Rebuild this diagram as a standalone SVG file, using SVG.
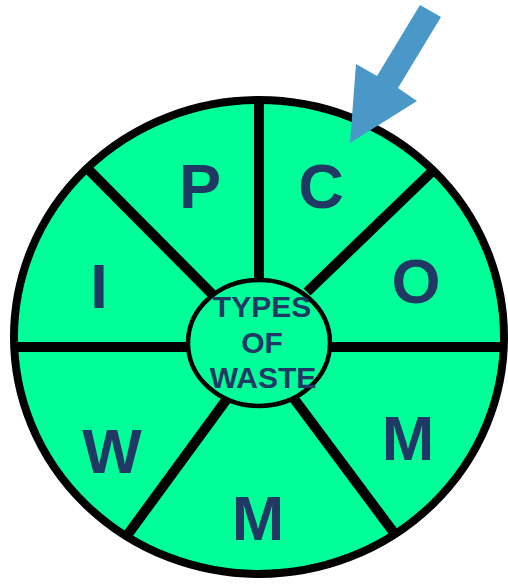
<svg xmlns="http://www.w3.org/2000/svg" width="508" height="585" viewBox="0 0 508 585">
  <style>
    .wheel { fill: none; stroke: #000; stroke-width: 8; }
    .spoke { stroke: #000; stroke-width: 10; stroke-linecap: butt; fill: none; }
    .hub { fill: #00FF99; stroke: #000; stroke-width: 4.5; }
    .big { font-family: "Liberation Sans", Arial, sans-serif; font-weight: bold; font-size: 63px; fill: #1F3864; text-anchor: middle; }
    .hubtext { font-family: "Liberation Sans", Arial, sans-serif; font-weight: bold; font-size: 30px; fill: #1F3864; text-anchor: middle; }
    .pointer { fill: #4A98C8; }
  </style>
  <defs>
    <clipPath id="wheel-clip">
      <ellipse cx="259" cy="337" rx="245" ry="237"/>
    </clipPath>
  </defs>

  <!-- outer wheel fill -->
  <ellipse cx="259" cy="337" rx="245" ry="237" fill="#00FF99"/>

  <!-- spokes dividing the wheel into segments -->
  <g id="spokes" clip-path="url(#wheel-clip)">
    <line class="spoke" x1="259" y1="90" x2="259" y2="282"/>
    <line class="spoke" x1="76" y1="157" x2="214" y2="296"/>
    <line class="spoke" x1="444" y1="160" x2="307" y2="292"/>
    <line class="spoke" x1="4" y1="347" x2="190" y2="347"/>
    <line class="spoke" x1="328" y1="347" x2="514" y2="347"/>
    <line class="spoke" x1="112" y1="556" x2="232" y2="392"/>
    <line class="spoke" x1="409" y1="553" x2="289" y2="392"/>
  </g>

  <!-- outer wheel rim -->
  <ellipse class="wheel" cx="259" cy="337" rx="245" ry="237"/>

  <!-- centre hub -->
  <g id="hub">
    <ellipse class="hub" cx="259" cy="343" rx="71" ry="63"/>
    <text class="hubtext" x="262" y="317">TYPES</text>
    <text class="hubtext" x="262" y="353">OF</text>
    <text class="hubtext" x="263" y="388">WASTE</text>
  </g>

  <!-- segment letters -->
  <g id="seg-p"><text class="big" x="200" y="208">P</text></g>
  <g id="seg-c"><text class="big" x="321" y="208">C</text></g>
  <g id="seg-i"><text class="big" x="99" y="308">I</text></g>
  <g id="seg-o"><text class="big" x="416" y="303">O</text></g>
  <g id="seg-m-right"><text class="big" x="408" y="460">M</text></g>
  <g id="seg-m-bottom"><text class="big" x="258" y="540">M</text></g>
  <g id="seg-w"><text class="big" x="112" y="473">W</text></g>

  <!-- pointer arrow -->
  <g id="pointer">
    <polygon class="pointer" points="420,5 441,17 398,88 417,101 350,143 356,64 377,76"/>
  </g>
</svg>
